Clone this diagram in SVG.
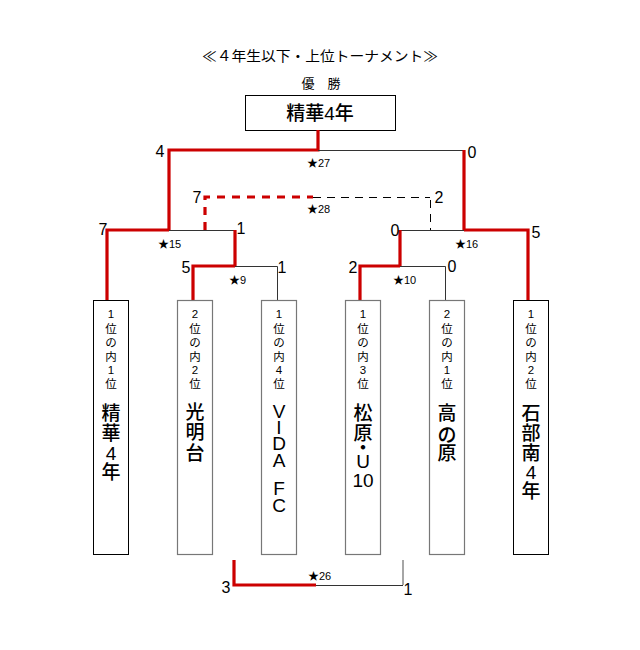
<svg xmlns="http://www.w3.org/2000/svg" width="640" height="650" viewBox="0 0 640 650">
<style>
text{font-family:"Liberation Sans","Noto Sans CJK JP",sans-serif;fill:#000}
.sc{font-size:16px;text-anchor:middle}
.st{font-size:11px}
.sm{font-size:11.5px;text-anchor:middle}
.bg{font-size:19px;text-anchor:middle;font-weight:500}
.lt{font-size:19px;text-anchor:middle}
.box{fill:#fff;stroke:#000;stroke-width:1}
.boxg{fill:#fff;stroke:#777;stroke-width:1.2}
.r{fill:none;stroke:#cc0000;stroke-width:3.2}
.k{fill:none;stroke:#333;stroke-width:1}
.rd{fill:none;stroke:#cc0000;stroke-width:3.2;stroke-dasharray:8 7}
.kd{fill:none;stroke:#000;stroke-width:1;stroke-dasharray:8 6}
</style>
<rect width="640" height="650" fill="#fff"/>

<g id="title">
<text x="320" y="61" font-size="14" text-anchor="middle" textLength="236" lengthAdjust="spacingAndGlyphs">≪４年生以下・上位トーナメント≫</text>
<text x="321" y="88" font-size="13" text-anchor="middle">優　勝</text>
</g>

<g id="champion">
<rect class="box" x="245.5" y="95.5" width="150" height="35"/>
<text x="320" y="120" font-size="19" font-weight="500" text-anchor="middle">精華4年</text>
</g>

<g id="connectors">
<!-- final ★27 -->
<path class="r" d="M318,130 V150 H169 V230"/>
<path class="k" d="M318,150.5 H464"/>
<path class="r" d="M464,150 V230"/>
<!-- 3rd place ★28 -->
<path class="rd" d="M205,230 V197 H313"/>
<path class="kd" d="M313,197.5 H430"/>
<path class="kd" d="M430.5,200 V230"/>
<!-- ★15 -->
<path class="r" d="M107,300 V230 H169"/>
<path class="k" d="M169,230.5 H235"/>
<path class="r" d="M235,230 V266"/>
<!-- ★9 -->
<path class="r" d="M193,300 V266 H235"/>
<path class="k" d="M235,266.5 H277.5 V300"/>
<!-- ★16 -->
<path class="k" d="M400,230.5 H464"/>
<path class="r" d="M464,230 H528 V300"/>
<path class="r" d="M400,230 V266"/>
<!-- ★10 -->
<path class="r" d="M360,300 V266 H400"/>
<path class="k" d="M400,266.5 H445.5 V300"/>
<!-- ★26 -->
<path class="r" d="M234,560 V585 H316"/>
<path class="k" d="M316,585.5 H403"/>
<path d="M403,585 V560" fill="none" stroke="#888" stroke-width="1.5"/>
</g>

<g id="labels">
<text class="sc" x="160" y="157">4</text>
<text class="sc" x="472" y="158">0</text>
<text class="st" x="307" y="167">★27</text>
<text class="sc" x="197" y="203">7</text>
<text class="sc" x="439" y="203">2</text>
<text class="st" x="307" y="213">★28</text>
<text class="sc" x="103" y="235">7</text>
<text class="sc" x="241" y="234">1</text>
<text class="st" x="158" y="248">★15</text>
<text class="sc" x="395" y="236">0</text>
<text class="sc" x="536" y="238">5</text>
<text class="st" x="455" y="248">★16</text>
<text class="sc" x="186" y="273">5</text>
<text class="sc" x="282" y="273">1</text>
<text class="st" x="229" y="284">★9</text>
<text class="sc" x="353" y="273">2</text>
<text class="sc" x="452" y="272">0</text>
<text class="st" x="393" y="284">★10</text>
<text class="sc" x="226" y="593">3</text>
<text class="sc" x="408" y="595">1</text>
<text class="st" x="308" y="580">★26</text>
</g>

<g id="team1">
<rect class="box" x="93.5" y="300.5" width="35" height="254"/>
<text class="sm" x="111" y="318">1</text><text class="sm" x="111" y="333">位</text><text class="sm" x="111" y="347">の</text><text class="sm" x="111" y="361">内</text><text class="sm" x="111" y="374">1</text><text class="sm" x="111" y="388">位</text>
<text class="bg" x="111" y="420">精</text><text class="bg" x="111" y="440">華</text><text class="bg" x="111" y="460">4</text><text class="bg" x="111" y="479">年</text>
</g>

<g id="team2">
<rect class="boxg" x="177.5" y="300.5" width="35" height="254"/>
<text class="sm" x="195" y="318">2</text><text class="sm" x="195" y="333">位</text><text class="sm" x="195" y="347">の</text><text class="sm" x="195" y="361">内</text><text class="sm" x="195" y="374">2</text><text class="sm" x="195" y="388">位</text>
<text class="bg" x="195" y="419">光</text><text class="bg" x="195" y="439">明</text><text class="bg" x="195" y="460">台</text>
</g>

<g id="team3">
<rect class="boxg" x="261.5" y="300.5" width="35" height="254"/>
<text class="sm" x="279" y="318">1</text><text class="sm" x="279" y="333">位</text><text class="sm" x="279" y="347">の</text><text class="sm" x="279" y="361">内</text><text class="sm" x="279" y="374">4</text><text class="sm" x="279" y="388">位</text>
<text class="lt" x="279" y="418">V</text><text class="lt" x="279" y="434">I</text><text class="lt" x="279" y="450">D</text><text class="lt" x="279" y="467">A</text><text class="lt" x="279" y="495">F</text><text class="lt" x="279" y="512">C</text>
</g>

<g id="team4">
<rect class="boxg" x="345.5" y="300.5" width="35" height="254"/>
<text class="sm" x="363" y="318">1</text><text class="sm" x="363" y="333">位</text><text class="sm" x="363" y="347">の</text><text class="sm" x="363" y="361">内</text><text class="sm" x="363" y="374">3</text><text class="sm" x="363" y="388">位</text>
<text class="bg" x="363" y="420">松</text><text class="bg" x="363" y="440">原</text><text class="bg" x="363" y="455">・</text><text class="lt" x="363" y="468">U</text><text class="lt" x="363" y="487">10</text>
</g>

<g id="team5">
<rect class="boxg" x="429.5" y="300.5" width="35" height="254"/>
<text class="sm" x="447" y="318">2</text><text class="sm" x="447" y="333">位</text><text class="sm" x="447" y="347">の</text><text class="sm" x="447" y="361">内</text><text class="sm" x="447" y="374">1</text><text class="sm" x="447" y="388">位</text>
<text class="bg" x="447" y="420">高</text><text class="bg" x="447" y="442">の</text><text class="bg" x="447" y="460">原</text>
</g>

<g id="team6">
<rect class="box" x="513.5" y="300.5" width="35" height="254"/>
<text class="sm" x="531" y="318">1</text><text class="sm" x="531" y="333">位</text><text class="sm" x="531" y="347">の</text><text class="sm" x="531" y="361">内</text><text class="sm" x="531" y="374">2</text><text class="sm" x="531" y="388">位</text>
<text class="bg" x="531" y="420">石</text><text class="bg" x="531" y="440">部</text><text class="bg" x="531" y="460">南</text><text class="bg" x="531" y="479">4</text><text class="bg" x="531" y="498">年</text>
</g>
</svg>
